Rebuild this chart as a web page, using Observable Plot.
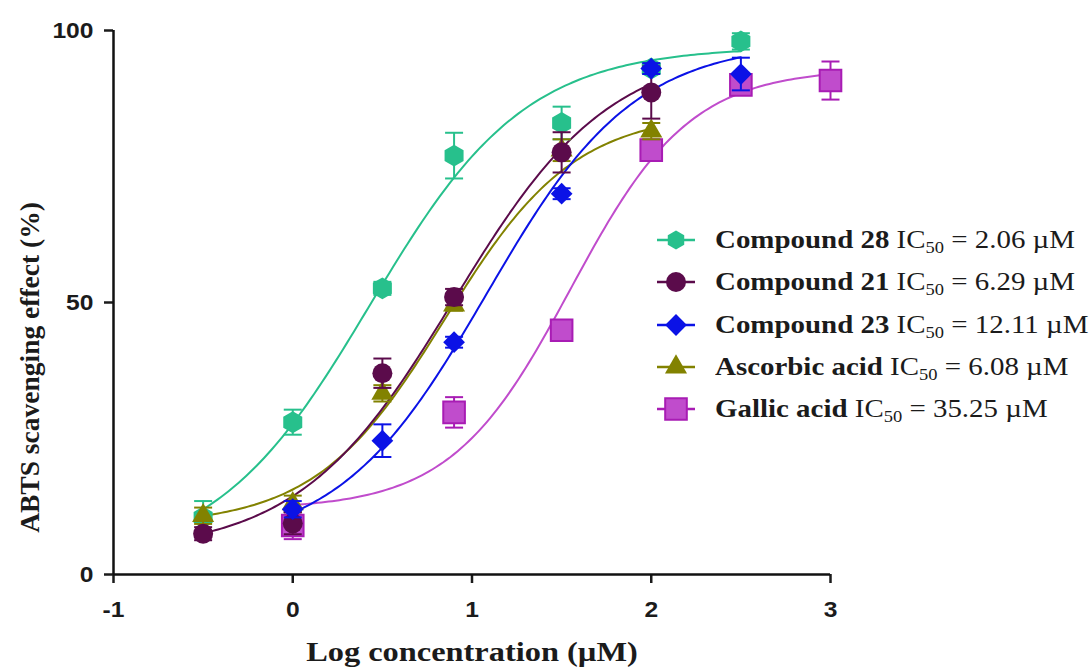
<!DOCTYPE html>
<html>
<head>
<meta charset="utf-8">
<script src="https://cdn.jsdelivr.net/npm/d3@7"></script>
<script src="https://cdn.jsdelivr.net/npm/@observablehq/plot@0.6"></script>
<style>
  body { margin: 0; background: #fff; }
  #wrap { position: relative; width: 1091px; height: 671px; }
  #legend { position: absolute; left: 655px; top: 219px; font-family: "Liberation Serif", "Times New Roman", serif; font-size: 25.5px; color: #1b1b1b; }
  .row { display: flex; align-items: center; height: 42.3px; white-space: nowrap; }
  .row svg { margin-right: 18px; flex: none; }
  .row .txt { display: inline-block; transform-origin: 0 50%; }
  .row sub { font-size: 0.64em; vertical-align: -0.32em; line-height: 0; }
</style>
</head>
<body>
<div id="wrap"><div id="legend"></div></div>
<script>
// ABTS radical scavenging: mean ± SD at each log concentration, plus fitted dose-response curves
const logConc = [-0.5, 0, 0.5, 0.9, 1.5, 2, 2.5, 3];

const seriesNames = ["Compound 28", "Compound 21", "Compound 23", "Ascorbic acid", "Gallic acid"];
const ic50Labels = ["2.06", "6.29", "12.11", "6.08", "35.25"];
const seriesColors = ["#27c08c", "#5b0b4b", "#0b12e6", "#828200", "#c04ccc"];
const seriesSymbols = ["hexagon", "circle", "diamond2", "triangle", "square"];

const c28Mean = [10.5, 28.0, 52.6, 77.0, 83.0, 93.0, 98.0, null];
const c28Err  = [3.0, 2.3, 1.2, 4.2, 3.0, 1.0, 1.5, null];
const c21Mean = [7.5, 9.4, 37.0, 51.0, 77.6, 88.6, null, null];
const c21Err  = [1.2, 2.0, 2.7, 1.5, 3.7, 4.8, null, null];
const c23Mean = [null, 12.0, 24.6, 42.7, 70.0, 93.0, 92.0, null];
const c23Err  = [null, 1.5, 3.0, 1.0, 1.0, 1.0, 3.0, null];
const ascMean = [10.8, 13.0, 33.3, 49.5, 78.0, 81.5, null, null];
const ascErr  = [1.5, 1.5, 1.5, 1.0, 2.0, 1.5, null, null];
const galMean = [null, 9.0, null, 29.8, 44.9, 78.0, 90.0, 90.8];
const galErr  = [null, 2.5, null, 2.8, 1.0, 1.5, 1.5, 3.5];

// four-parameter logistic fit for each series
const fitBottom = [2, 4, 5, 9, 12];
const fitTop    = [97, 97, 98, 85, 93];
const fitLogMid = [0.43, 0.9, 1.08, 0.85, 1.55];
const fitHill   = [1.0, 1.0, 1.05, 1.2, 1.3];
const fitFrom   = [-0.5, -0.5, 0, -0.5, 0];
const fitTo     = [2.5, 2.0, 2.5, 2.0, 3.0];

const xTicks = [-1, 0, 1, 2, 3];
const yTicks = [0, 50, 100];
const xTitle = "Log concentration (\u00b5M)";
const yTitle = "ABTS scavenging effect (%)";

const means = [c28Mean, c21Mean, c23Mean, ascMean, galMean];
const errs = [c28Err, c21Err, c23Err, ascErr, galErr];

const points = means.map((m, s) =>
  logConc.map((x, i) => ({x, y: m[i], lo: m[i] - errs[s][i], hi: m[i] + errs[s][i]}))
    .filter(d => d.y != null));

const curves = seriesNames.map((_, s) => {
  const n = 150, out = [];
  for (let i = 0; i <= n; i++) {
    const x = fitFrom[s] + (fitTo[s] - fitFrom[s]) * i / n;
    const y = fitBottom[s] + (fitTop[s] - fitBottom[s]) / (1 + Math.pow(10, (fitLogMid[s] - x) * fitHill[s]));
    out.push({x, y});
  }
  return out;
});

const markerR = [9.5, 10, 9.8, 8.2, 12.2];
const capSymbol = {draw(ctx) { ctx.moveTo(-9, 0); ctx.lineTo(9, 0); }};

const drawOrder = [4, 0, 3, 1, 2];

const marks = [
  Plot.axisX({ticks: xTicks, tickSize: 9, tickPadding: 18, tickFormat: d => String(d), label: null, strokeWidth: 2.5}),
  Plot.axisY({ticks: yTicks, tickSize: 9, tickPadding: 11, tickFormat: d => String(d), label: null, strokeWidth: 2.5}),
  Plot.ruleX([-1], {y1: 0, y2: 100, stroke: "#111", strokeWidth: 2.5}),
  Plot.ruleY([0], {x1: -1, x2: 3, stroke: "#111", strokeWidth: 2.5}),
  Plot.text([xTitle], {frameAnchor: "bottom", dy: 78, lineAnchor: "middle", textAnchor: "middle", fontFamily: "Liberation Serif", fontSize: 27, fontWeight: "bold", fill: "#1b1b1b"}),
  Plot.text([yTitle], {frameAnchor: "left", dx: -83, dy: 65, rotate: -90, lineAnchor: "middle", textAnchor: "middle", fontFamily: "Liberation Serif", fontSize: 27.5, fontWeight: "bold", fill: "#1b1b1b"})
];

for (const s of drawOrder) {
  marks.push(Plot.line(curves[s], {x: "x", y: "y", stroke: seriesColors[s], strokeWidth: 2, curve: "linear"}));
}
for (const s of drawOrder) {
  const c = seriesColors[s];
  const isSquare = seriesSymbols[s] === "square";
  const barColor = isSquare ? "#a81cb4" : c;
  marks.push(Plot.ruleX(points[s], {x: "x", y1: "lo", y2: "hi", stroke: barColor, strokeWidth: 2}));
  marks.push(Plot.dot(points[s], {x: "x", y: "hi", symbol: capSymbol, stroke: barColor, strokeWidth: 2}));
  marks.push(Plot.dot(points[s], {x: "x", y: "lo", symbol: capSymbol, stroke: barColor, strokeWidth: 2}));
  marks.push(Plot.dot(points[s], {
    x: "x", y: "y", symbol: seriesSymbols[s], r: markerR[s],
    fill: c, stroke: isSquare ? "#a81cb4" : "none", strokeWidth: isSquare ? 2 : 0
  }));
}

const chart = Plot.plot({
  width: 1091,
  height: 671,
  marginLeft: 113,
  marginRight: 261,
  marginTop: 30,
  marginBottom: 97,
  x: {domain: [-1, 3]},
  y: {domain: [0, 100]},
  style: {fontFamily: "'Liberation Sans', Arial, sans-serif", fontSize: "22px", fontWeight: "bold", color: "#1b1b1b", background: "white", overflow: "visible"},
  marks
});
document.getElementById("wrap").prepend(chart);

// the lettering is set slightly wide: stretch each label horizontally about its anchor
const tickLabels = new Set([...xTicks, ...yTicks].map(String));
d3.select(chart).selectAll("text").each(function() {
  const t = this.textContent;
  let k = 0;
  if (tickLabels.has(t)) k = 1.12;
  else if (t === xTitle) k = 1.2;
  if (k) {
    const tr = this.getAttribute("transform") || "";
    this.setAttribute("transform", tr + ` scale(${k},1)`);
  }
});

// legend rows: line + marker, bold name, IC50 value
const legend = d3.select("#legend");
seriesNames.forEach((name, s) => {
  const row = legend.append("div").attr("class", "row");
  const svg = row.append("svg").attr("width", 42).attr("height", 30);
  svg.append("line").attr("x1", 2).attr("x2", 40).attr("y1", 15).attr("y2", 15)
    .attr("stroke", seriesSymbols[s] === "square" ? "#a81cb4" : seriesColors[s]).attr("stroke-width", 2.5);
  const r = markerR[s];
  const g = svg.append("g").attr("transform", "translate(21,15)");
  const sym = seriesSymbols[s];
  if (sym === "hexagon") {
    const pts = d3.range(6).map(k => {
      const a = Math.PI / 3 * k;
      return [r * Math.sin(a), -r * Math.cos(a)];
    });
    g.append("polygon").attr("points", pts.map(p => p.join(",")).join(" ")).attr("fill", seriesColors[s]);
  } else {
    const typeMap = {circle: d3.symbolCircle, diamond2: d3.symbolDiamond2, triangle: d3.symbolTriangle, square: d3.symbolSquare};
    const p = g.append("path").attr("d", d3.symbol(typeMap[sym], r * r * Math.PI)()).attr("fill", seriesColors[s]);
    if (sym === "square") p.attr("stroke", "#a81cb4").attr("stroke-width", 2);
  }
  const label = row.append("span").attr("class", "txt");
  label.append("b").text(name);
  label.append("span").html(" IC<sub>50</sub> = " + ic50Labels[s] + " \u00b5M");
});
// stretch legend text so the first row spans its full width
const firstWidth = legend.select(".txt").node().getBoundingClientRect().width;
legend.selectAll(".txt").style("transform", `scaleX(${360 / firstWidth})`);
</script>
</body>
</html>
